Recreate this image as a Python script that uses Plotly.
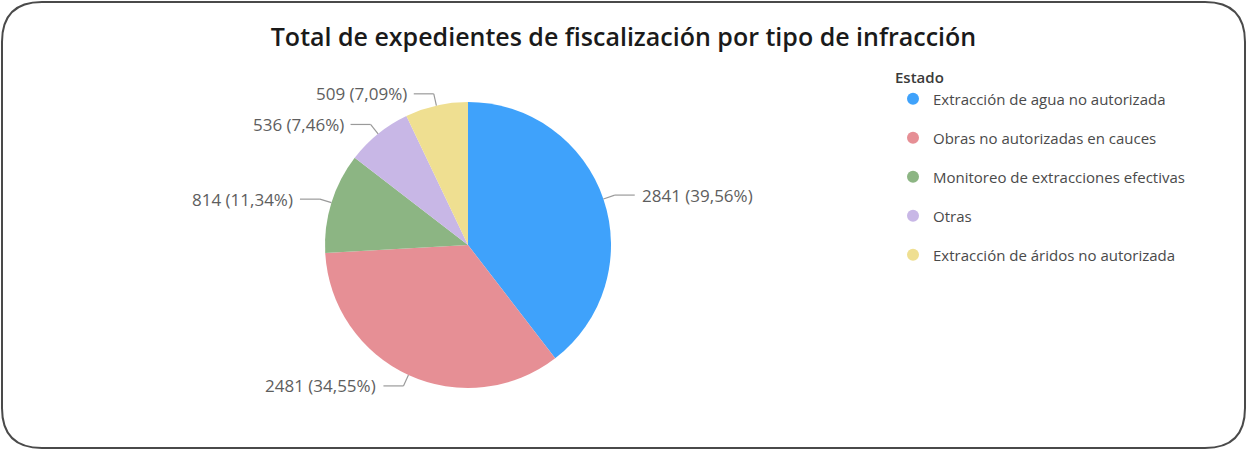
import math
import plotly.graph_objects as go

# datos
categorias = ['Extracción de agua no autorizada', 'Obras no autorizadas en cauces',
              'Monitoreo de extracciones efectivas', 'Otras', 'Extracción de áridos no autorizada']
valores = [2841, 2481, 814, 536, 509]
colores = ['#3fa2fb', '#e68f95', '#8cb583', '#c8b7e6', '#efdf91']

W, H = 1247, 450
FONT = 'Open Sans'

# posicion del pie (en pixeles)
cx, cy, r = 468, 245, 143
dom_x = [(cx - r) / W, (cx + r) / W]
dom_y = [1 - (cy + r) / H, 1 - (cy - r) / H]

fig = go.Figure()

fig.add_trace(go.Pie(
    labels=categorias,
    values=valores,
    marker=dict(colors=colores, line=dict(color='white', width=0)),
    sort=False,
    direction='clockwise',
    rotation=0,
    textinfo='none',
    hoverinfo='label+value+percent',
    showlegend=False,
    domain=dict(x=dom_x, y=dom_y)
))

# leyenda con circulos
for cat, col in zip(categorias, colores):
    fig.add_trace(go.Scatter(
        x=[None], y=[None], mode='markers', name=cat, legendgroup=cat,
        marker=dict(color=col, size=15, symbol='circle')
    ))

# etiquetas exteriores con lineas
total = sum(valores)
acum = 0
shapes = []
annotations = []
for v in valores:
    frac = v / total
    mid = 90 - 360 * (acum + frac / 2)
    acum += frac
    a = math.radians(mid)
    x0, y0 = cx + r * math.cos(a), cy - r * math.sin(a)
    x1, y1 = cx + (r + 12) * math.cos(a), cy - (r + 12) * math.sin(a)
    lado = 1 if math.cos(a) >= 0 else -1
    x2 = x1 + lado * 20
    shapes.append(dict(type='line', xref='paper', yref='paper',
                       x0=x0 / W, y0=1 - y0 / H, x1=x1 / W, y1=1 - y1 / H,
                       line=dict(color='#9a9a9a', width=1.2)))
    shapes.append(dict(type='line', xref='paper', yref='paper',
                       x0=x1 / W, y0=1 - y1 / H, x1=x2 / W, y1=1 - y1 / H,
                       line=dict(color='#9a9a9a', width=1.2)))
    texto = f'{v} ({100 * frac:.2f}%)'.replace('.', ',')
    annotations.append(dict(
        text=texto, xref='paper', yref='paper',
        x=(x2 + lado * 5) / W, y=1 - y1 / H,
        xanchor='left' if lado > 0 else 'right', yanchor='middle',
        showarrow=False, font=dict(family=FONT, size=17, color='#5e5e5e')
    ))

# borde redondeado
rad = 40
x0b, y0b, x1b, y1b = 2, 2, W - 2, H - 2
def px(x, y):
    return f'{x / W:.5f},{1 - y / H:.5f}'
path = (f'M {px(x0b + rad, y0b)} L {px(x1b - rad, y0b)} '
        f'Q {px(x1b, y0b)} {px(x1b, y0b + rad)} L {px(x1b, y1b - rad)} '
        f'Q {px(x1b, y1b)} {px(x1b - rad, y1b)} L {px(x0b + rad, y1b)} '
        f'Q {px(x0b, y1b)} {px(x0b, y1b - rad)} L {px(x0b, y0b + rad)} '
        f'Q {px(x0b, y0b)} {px(x0b + rad, y0b)} Z')
shapes.append(dict(type='path', xref='paper', yref='paper', path=path,
                   line=dict(color='#4a4a4a', width=2)))

fig.update_layout(
    width=W, height=H,
    margin=dict(l=0, r=0, t=0, b=0),
    paper_bgcolor='white', plot_bgcolor='white',
    title=dict(text='Total de expedientes de fiscalización por tipo de infracción',
               x=0.5, xanchor='center', y=1 - 37 / H, yanchor='middle',
               font=dict(family=FONT, size=25, weight=600, color='#1a1a1a')),
    xaxis=dict(visible=False), yaxis=dict(visible=False),
    legend=dict(
        title=dict(text='Estado', font=dict(family=FONT, size=15, weight=600, color='#3a3a3a')),
        x=893 / W, y=1 - 63 / H, xanchor='left', yanchor='top',
        font=dict(family=FONT, size=15, color='#4a4a4a'),
        tracegroupgap=16.5, itemsizing='constant', bgcolor='rgba(0,0,0,0)'
    ),
    shapes=shapes,
    annotations=annotations
)

fig.write_html('out.html', config={'displayModeBar': False},
               post_script="document.body.style.margin='0';")
